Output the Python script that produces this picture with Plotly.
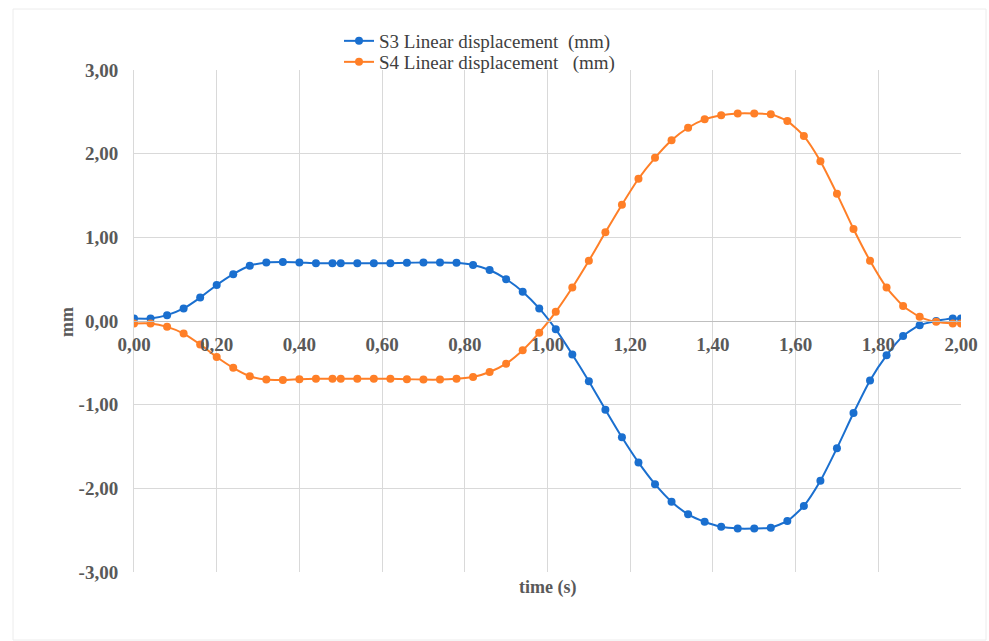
import plotly.graph_objects as go

# Sample times (s)
time_s = [0.00, 0.04, 0.08, 0.12, 0.16, 0.20, 0.24, 0.28, 0.32, 0.36, 0.40, 0.44, 0.48,
          0.50, 0.54, 0.58, 0.62, 0.66, 0.70, 0.74, 0.78, 0.82, 0.86, 0.90, 0.94, 0.98,
          1.02, 1.06, 1.10, 1.14, 1.18, 1.22, 1.26, 1.30, 1.34, 1.38, 1.42, 1.46, 1.50,
          1.54, 1.58, 1.62, 1.66, 1.70, 1.74, 1.78, 1.82, 1.86, 1.90, 1.94, 1.98, 2.00]

# Sensor S3 linear displacement (mm)
s3_mm = [0.03, 0.03, 0.07, 0.15, 0.28, 0.43, 0.56, 0.66, 0.70, 0.705, 0.70, 0.69, 0.69,
         0.69, 0.69, 0.69, 0.69, 0.695, 0.70, 0.70, 0.695, 0.67, 0.61, 0.50, 0.35, 0.15,
         -0.10, -0.40, -0.72, -1.06, -1.39, -1.69, -1.95, -2.16, -2.31, -2.40, -2.46, -2.48, -2.48,
         -2.47, -2.39, -2.21, -1.91, -1.52, -1.10, -0.71, -0.41, -0.18, -0.05, 0.00, 0.03, 0.03]

# Sensor S4 linear displacement (mm)
s4_mm = [-0.03, -0.03, -0.07, -0.15, -0.28, -0.43, -0.56, -0.66, -0.70, -0.705, -0.695, -0.69, -0.69,
         -0.69, -0.69, -0.69, -0.69, -0.695, -0.70, -0.70, -0.69, -0.67, -0.61, -0.51, -0.35, -0.14,
         0.11, 0.40, 0.72, 1.06, 1.39, 1.70, 1.95, 2.16, 2.31, 2.41, 2.46, 2.48, 2.48,
         2.47, 2.39, 2.21, 1.91, 1.52, 1.10, 0.72, 0.40, 0.18, 0.05, -0.01, -0.03, -0.03]

series_names = ["S3 Linear displacement  (mm)", "S4 Linear displacement   (mm)"]
series_colors = ["#1a6fcf", "#ff7f27"]

x_ticks = [round(0.2 * i, 2) for i in range(11)]
y_ticks = [-3, -2, -1, 0, 1, 2, 3]


def comma_label(v):
    # two decimals, comma as decimal mark, plain hyphen for negatives
    return f"{v:.2f}".replace(".", ",")


FONT = "Liberation Serif"
TICK_GRAY = "#595959"
TICK_SIZE = 19

fig = go.Figure()
legend_ids = ["legend", "legend2"]
for name, ys, col, lg in zip(series_names, [s3_mm, s4_mm], series_colors, legend_ids):
    fig.add_trace(go.Scatter(
        x=time_s, y=ys, name=name, mode="lines+markers", legend=lg,
        line=dict(color=col, width=2, shape="spline", smoothing=0.6),
        marker=dict(color=col, size=8, symbol="circle"),
    ))

legend_style = dict(
    xanchor="left", yanchor="middle", bgcolor="rgba(0,0,0,0)",
    font=dict(family=FONT, size=19, color="#404040"), itemwidth=30,
)

fig.update_layout(
    width=989, height=641,
    margin=dict(l=134, r=28, t=70, b=69),
    paper_bgcolor="white", plot_bgcolor="white",
    font=dict(family=FONT, color=TICK_GRAY),
    showlegend=True,
    legend=dict(x=(339 - 134) / 827, y=1 + (70 - 41) / 502, **legend_style),
    legend2=dict(x=(339 - 134) / 827, y=1 + (70 - 62) / 502, **legend_style),
    xaxis=dict(
        range=[0, 2], tickvals=x_ticks, ticktext=[comma_label(v) for v in x_ticks],
        anchor="free", position=0.5,
        showgrid=True, gridcolor="#d9d9d9", gridwidth=1,
        zeroline=False, showline=True, linecolor="#bfbfbf", linewidth=1,
        ticks="outside", ticklen=6, tickcolor="rgba(0,0,0,0)",
        tickfont=dict(family=FONT, size=TICK_SIZE, color=TICK_GRAY, weight="bold"),
    ),
    yaxis=dict(
        range=[-3, 3], tickvals=y_ticks, ticktext=[comma_label(v) for v in y_ticks],
        showgrid=True, gridcolor="#d9d9d9", gridwidth=1,
        zeroline=False, showline=True, linecolor="#d9d9d9", linewidth=1,
        ticks="outside", ticklen=11, tickcolor="rgba(0,0,0,0)",
        tickfont=dict(family=FONT, size=TICK_SIZE, color=TICK_GRAY, weight="bold"),
    ),
)

# Axis titles
fig.add_annotation(text="<b>time (s)</b>", xref="paper", yref="paper",
                   x=(547 - 134) / 827, y=(572 - 587) / 502, xanchor="center", yanchor="middle",
                   showarrow=False, font=dict(family=FONT, size=18, color=TICK_GRAY))
fig.add_annotation(text="<b>mm</b>", xref="paper", yref="paper",
                   x=(67 - 134) / 827, y=(572 - 322) / 502, xanchor="center", yanchor="middle",
                   showarrow=False, textangle=-90, font=dict(family=FONT, size=18, color=TICK_GRAY))

# Faint chart-area frame
fig.add_shape(type="rect", xref="paper", yref="paper",
              x0=(13 - 134) / 827, x1=(986 - 134) / 827,
              y0=(572 - 640) / 502, y1=1 + (70 - 9) / 502,
              line=dict(color="#ececec", width=1), layer="below")

fig.write_html("out.html")
